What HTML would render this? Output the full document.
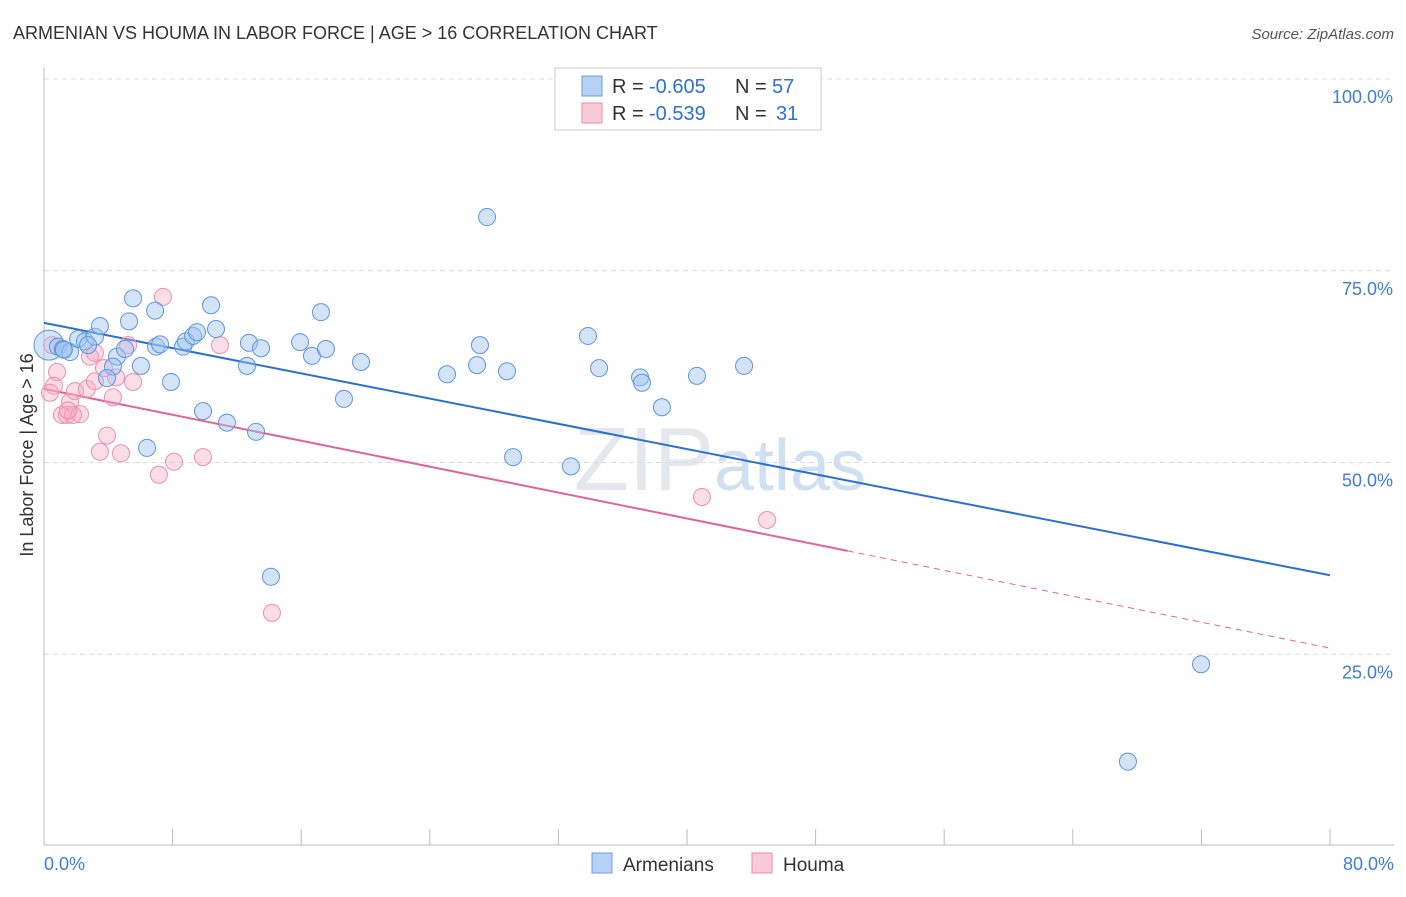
<!DOCTYPE html>
<html><head><meta charset="utf-8"><style>
body{margin:0;background:#fff;font-family:"Liberation Sans",sans-serif}
svg text{font-family:"Liberation Sans",sans-serif}
</style></head><body>
<svg id="chart" width="1406" height="892" xmlns="http://www.w3.org/2000/svg">
<text x="13" y="39" font-size="18" fill="#333">ARMENIAN VS HOUMA IN LABOR FORCE | AGE &gt; 16 CORRELATION CHART</text>
<text x="1394" y="39" font-size="15" fill="#555" text-anchor="end" font-style="italic">Source: ZipAtlas.com</text>
<text x="720" y="490" font-size="90" fill="#e4e8ee" text-anchor="middle" font-family="Liberation Serif">ZIP<tspan fill="#cfe0f3" font-family="Liberation Sans" font-size="72">atlas</tspan></text>
<g id="grid"></g>
<g id="axes"></g>
<text transform="translate(33,455) rotate(-90)" font-size="18" fill="#333" text-anchor="middle">In Labor Force | Age &gt; 16</text>
<g id="lines"></g>
<g id="points"></g>
<g>
<rect x="555" y="68" width="266" height="62" fill="#fff" stroke="#ccc"/>
<rect x="582" y="76" width="20" height="20" fill="#b7d2f4" stroke="#6a9fe0"/>
<text x="612" y="93" font-size="20" fill="#333">R =</text>
<text x="649" y="93" font-size="20" fill="#2f6fd6">-0.605</text>
<text x="735" y="93" font-size="20" fill="#333">N =</text>
<text x="772" y="93" font-size="20" fill="#2f6fd6">57</text>
<rect x="582" y="103" width="20" height="20" fill="#f9cbd8" stroke="#e98aa8"/>
<text x="612" y="120" font-size="20" fill="#333">R =</text>
<text x="649" y="120" font-size="20" fill="#2f6fd6">-0.539</text>
<text x="735" y="120" font-size="20" fill="#333">N =</text>
<text x="776" y="120" font-size="20" fill="#2f6fd6">31</text>
</g>
<g>
<rect x="592" y="853" width="20" height="20" fill="#b7d2f4" stroke="#6a9fe0"/>
<text x="623" y="871" font-size="19" fill="#333">Armenians</text>
<rect x="752" y="853" width="20" height="20" fill="#f9cbd8" stroke="#e98aa8"/>
<text x="783" y="871" font-size="19" fill="#333">Houma</text>
</g>
</svg>
<script>
const yTicks=[100,75,50,25];
const yTickLabels=["100.0%","75.0%","50.0%","25.0%"];
const xTickVals=[0,8,16,24,32,40,48,56,64,72,80];
const xEndLabels=["0.0%","80.0%"];
const armX=[0.31,0.87,1.18,1.62,2.12,2.55,3.17,3.48,2.74,4.54,4.29,3.92,5.04,5.54,5.29,6.03,6.91,6.97,7.22,7.90,8.65,8.83,9.27,9.52,10.39,10.70,9.89,11.38,12.75,12.63,13.19,13.50,15.93,16.67,17.23,17.54,18.66,19.72,6.41,14.12,25.07,27.12,26.94,27.56,28.80,29.18,32.78,33.84,34.53,37.08,37.20,38.44,40.62,43.55,67.43,71.98,1.24];
const armY=[65.3,65.1,64.8,64.4,66.1,65.8,66.4,67.8,65.3,63.8,62.5,61.0,64.8,71.4,68.4,62.6,69.8,65.1,65.4,60.5,65.1,65.8,66.5,67.0,70.5,67.4,56.7,55.2,65.6,62.6,54.0,64.9,65.7,63.9,69.6,64.8,58.3,63.1,51.9,35.1,61.5,65.3,62.7,82.0,61.9,50.7,49.5,66.5,62.3,61.1,60.4,57.2,61.3,62.6,11.0,23.7,64.7];
const houX=[0.50,0.81,0.62,0.37,1.12,1.43,1.62,1.93,2.24,1.80,2.67,2.86,3.17,3.17,3.48,3.92,4.29,4.48,3.73,4.79,5.23,5.54,7.40,8.09,7.15,9.89,10.95,14.18,40.93,44.98,1.49];
const houY=[65.3,61.8,60.0,59.1,56.2,56.2,57.9,59.3,56.3,56.2,59.6,63.8,64.3,60.6,51.4,53.5,58.5,61.1,62.3,51.2,65.3,60.5,71.6,50.1,48.4,50.7,65.3,30.4,45.5,42.5,56.8];
const armTrend=[68.2,35.3];
const houTrend=[59.6,25.8];
const houSolidEnd=50.0;

const NS="http://www.w3.org/2000/svg";
const X=v=>44+v*16.075;
const Y=v=>79+(100-v)*7.67;
function mk(tag,attrs,parent){const e=document.createElementNS(NS,tag);for(const k in attrs)e.setAttribute(k,attrs[k]);document.getElementById(parent).appendChild(e);return e;}
yTicks.forEach((t,i)=>{
  const l=mk('line',{x1:44,x2:1394,y1:Y(t),y2:Y(t),stroke:'#ddd','stroke-dasharray':'5,4'},'grid');
  
  
  const tx=mk('text',{x:1393,y:Y(t)+24,'font-size':18,fill:'#3d7dd8','text-anchor':'end'},'grid');
  tx.textContent=yTickLabels[i];
  
  
});
const ax=mk('line',{x1:44,x2:44,y1:68,y2:845,stroke:'#bbb'},'axes');


const bx=mk('line',{x1:44,x2:1394,y1:845,y2:845,stroke:'#bbb'},'axes');


xTickVals.forEach(v=>{
  const t=mk('line',{x1:X(v),x2:X(v),y1:829,y2:845,stroke:'#bbb'},'axes');
  
  
});
[[0,'start',44],[80,'end',1394]].forEach((d,i)=>{
  const t=mk('text',{x:d[2],y:870,'font-size':18,fill:'#3d7dd8','text-anchor':d[1]},'axes');
  t.textContent=xEndLabels[i];
  
  
});
const lineAt=(tr,x)=>tr[0]+(tr[1]-tr[0])*x/80;
const bl=mk('line',{x1:X(0),y1:Y(armTrend[0]),x2:X(80),y2:Y(armTrend[1]),stroke:'#2a6fd6','stroke-width':2},'lines');


const pl=mk('line',{x1:X(0),y1:Y(houTrend[0]),x2:X(houSolidEnd),y2:Y(lineAt(houTrend,houSolidEnd)),stroke:'#e5648f','stroke-width':2},'lines');


const pd=mk('line',{x1:X(houSolidEnd),y1:Y(lineAt(houTrend,houSolidEnd)),x2:X(80),y2:Y(houTrend[1]),stroke:'#e5648f','stroke-width':1,'stroke-dasharray':'6,5'},'lines');


houX.forEach((x,i)=>{
  const c=mk('circle',{cx:X(x),cy:Y(houY[i]),r:8.5,fill:'rgba(245,170,195,0.4)',stroke:'#ec8fac','stroke-width':1},'points');
  
  
});
armX.forEach((x,i)=>{
  const c=mk('circle',{cx:X(x),cy:Y(armY[i]),r:i===0?15:8.5,fill:'rgba(160,196,240,0.45)',stroke:'#5b95e0','stroke-width':1},'points');
  
  
});
</script>
</body></html>
